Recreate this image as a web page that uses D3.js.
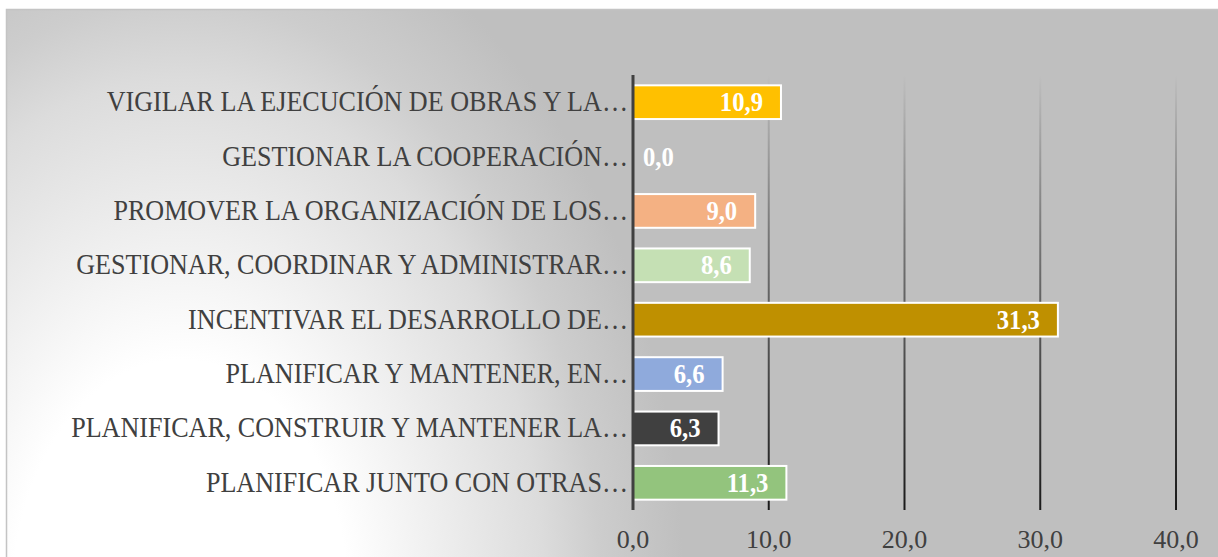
<!DOCTYPE html>
<html>
<head>
<meta charset="utf-8">
<script src="https://cdn.jsdelivr.net/npm/d3@7"></script>
<style>
  body { margin: 0; background: #ffffff; }
  svg { display: block; }
</style>
</head>
<body>
<div id="plot"></div>
<script>
// chart data (top to bottom)
var categories = [
  "VIGILAR LA EJECUCIÓN DE OBRAS Y LA…",
  "GESTIONAR LA COOPERACIÓN…",
  "PROMOVER LA ORGANIZACIÓN DE LOS…",
  "GESTIONAR, COORDINAR Y ADMINISTRAR…",
  "INCENTIVAR EL DESARROLLO DE…",
  "PLANIFICAR Y MANTENER, EN…",
  "PLANIFICAR, CONSTRUIR Y MANTENER LA…",
  "PLANIFICAR JUNTO CON OTRAS…"
];
var values = [10.9, 0.0, 9.0, 8.6, 31.3, 6.6, 6.3, 11.3];
var barColors = ["#ffc000", "#a5a5a5", "#f4b183", "#c5e0b4", "#bf9000", "#8faadc", "#404040", "#93c47d"];
var tickValues = [0, 10, 20, 30, 40];

var w = 1218;
var h = 557;
var plotTop = 75, plotBottom = 510;
var serif = "'Liberation Serif', 'Times New Roman', serif";
var fmt = function(d) { return d.toFixed(1).replace(".", ","); };

var svg = d3.select("#plot")
  .append("svg")
  .attr("width", w)
  .attr("height", h);

var defs = svg.append("defs");

// soft background light from lower left (elliptical)
var bg = defs.append("radialGradient")
  .attr("id", "bg")
  .attr("gradientUnits", "userSpaceOnUse")
  .attr("cx", 0).attr("cy", 0).attr("r", 1)
  .attr("gradientTransform", "translate(180,600) scale(560,800)");
[[0, "#ffffff"], [0.3, "#ffffff"], [0.45, "#f0f0f0"], [0.65, "#dcdcdc"],
 [0.75, "#cdcdcd"], [0.9, "#bfbfbf"], [1, "#bfbfbf"]].forEach(function(s) {
  bg.append("stop").attr("offset", s[0]).attr("stop-color", s[1]);
});

// gridlines fade in from the top
var gg = defs.append("linearGradient")
  .attr("id", "grid")
  .attr("gradientUnits", "userSpaceOnUse")
  .attr("x1", 0).attr("y1", plotTop).attr("x2", 0).attr("y2", plotBottom);
gg.append("stop").attr("offset", "0").attr("stop-color", "#bfbfbf");
gg.append("stop").attr("offset", "0.35").attr("stop-color", "#7a7a7a");
gg.append("stop").attr("offset", "1").attr("stop-color", "#1a1a1a");

svg.append("rect")
  .attr("x", 6.5).attr("y", 9.5)
  .attr("width", w).attr("height", h)
  .attr("fill", "url(#bg)")
  .attr("stroke", "#c4c4c4")
  .attr("stroke-width", 1.5);

var xScale = d3.scaleLinear()
  .domain([0, 40])
  .range([633, 1176]);

var yScale = d3.scaleBand()
  .domain(categories)
  .range([plotTop, plotBottom])
  .paddingInner(0.38)
  .paddingOuter(0.19);

// gridlines
svg.selectAll("line.grid")
  .data(tickValues.slice(1))
  .enter()
  .append("line")
  .attr("class", "grid")
  .attr("x1", function(d) { return xScale(d); })
  .attr("x2", function(d) { return xScale(d); })
  .attr("y1", plotTop)
  .attr("y2", plotBottom)
  .attr("stroke", "url(#grid)")
  .attr("stroke-width", 2);

// x tick labels
svg.selectAll("text.tick")
  .data(tickValues)
  .enter()
  .append("text")
  .attr("class", "tick")
  .attr("x", function(d) { return xScale(d); })
  .attr("y", 548)
  .attr("text-anchor", "middle")
  .attr("font-family", serif)
  .attr("font-size", "26px")
  .attr("fill", "#404040")
  .text(fmt);

// bars
svg.selectAll("rect.bar")
  .data(values)
  .enter()
  .append("rect")
  .attr("class", "bar")
  .attr("x", xScale(0))
  .attr("y", function(d, i) { return yScale(categories[i]); })
  .attr("width", function(d) { return xScale(d) - xScale(0); })
  .attr("height", yScale.bandwidth())
  .attr("fill", function(d, i) { return barColors[i]; })
  .attr("stroke", function(d) { return d > 0 ? "#ffffff" : "none"; })
  .attr("stroke-width", 2);

// value labels (narrow, tall type like the original)
svg.selectAll("text.val")
  .data(values)
  .enter()
  .append("text")
  .attr("class", "val")
  .attr("transform", function(d, i) {
    var x = d > 0 ? xScale(d) - 18 : xScale(0) + 10;
    var y = yScale(categories[i]) + yScale.bandwidth() / 2 + 9;
    return "translate(" + x + "," + y + ") scale(0.88,1)";
  })
  .attr("text-anchor", function(d) { return d > 0 ? "end" : "start"; })
  .attr("font-family", serif)
  .attr("font-size", "28px")
  .attr("font-weight", "bold")
  .attr("fill", "#ffffff")
  .text(fmt);

// category labels
svg.selectAll("text.cat")
  .data(categories)
  .enter()
  .append("text")
  .attr("class", "cat")
  .attr("transform", function(d) {
    return "translate(628," + (yScale(d) + yScale.bandwidth() / 2 + 9) + ") scale(0.9,1)";
  })
  .attr("text-anchor", "end")
  .attr("font-family", serif)
  .attr("font-size", "29px")
  .attr("fill", "#404040")
  .text(function(d) { return d; });

// vertical axis line
svg.append("line")
  .attr("x1", xScale(0)).attr("x2", xScale(0))
  .attr("y1", plotTop).attr("y2", plotBottom)
  .attr("stroke", "#404040")
  .attr("stroke-width", 3);
</script>
</body>
</html>
